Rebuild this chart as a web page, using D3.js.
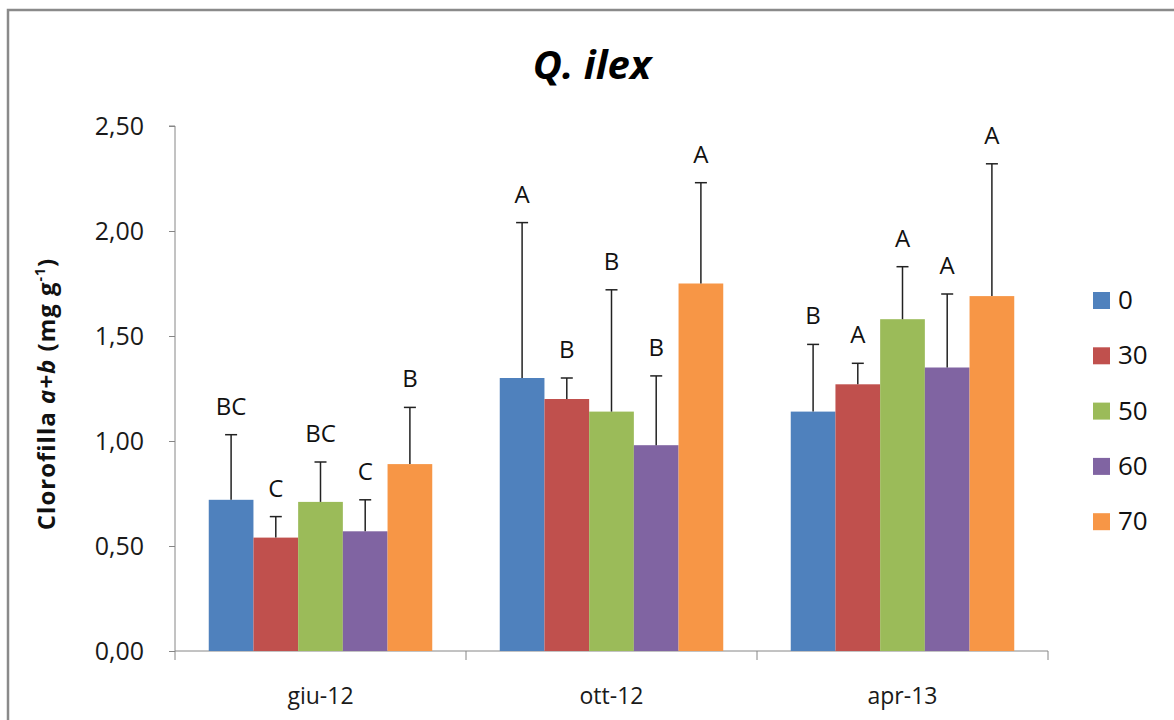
<!DOCTYPE html>
<html>
<head>
<meta charset="utf-8">
<script src="https://cdn.jsdelivr.net/npm/d3@7"></script>
<style>
  body { margin: 0; background: #fff; }
  svg { display: block; font-family: "Open Sans", sans-serif; }
</style>
</head>
<body>
<div id="chart"></div>
<script>
// 数据
const categories = ["giu-12", "ott-12", "apr-13"];
const series = ["0", "30", "50", "60", "70"];
const colors = ["#4F81BD", "#C0504D", "#9BBB59", "#8064A2", "#F79646"];
// values[series][category]
const means = [
    [0.72, 1.30, 1.14],
    [0.54, 1.20, 1.27],
    [0.71, 1.14, 1.58],
    [0.57, 0.98, 1.35],
    [0.89, 1.75, 1.69]
];
const errors = [
    [0.31, 0.74, 0.32],
    [0.10, 0.10, 0.10],
    [0.19, 0.58, 0.25],
    [0.15, 0.33, 0.35],
    [0.27, 0.48, 0.63]
];
const letters = [
    ["BC", "A", "B"],
    ["C", "B", "A"],
    ["BC", "B", "A"],
    ["C", "B", "A"],
    ["B", "A", "A"]
];
const yTicks = [0, 0.5, 1, 1.5, 2, 2.5];

const width = 1174, height = 720;
const plot = { left: 175, right: 1048, top: 126, bottom: 651 };

const svg = d3.select("#chart").append("svg")
    .attr("width", width)
    .attr("height", height);

// 外框 (top + left)
svg.append("path")
    .attr("d", `M8,${height} L8,10 L${width},10`)
    .attr("fill", "none")
    .attr("stroke", "#8a8a8a")
    .attr("stroke-width", 2.5);

const y = d3.scaleLinear().domain([0, 2.5]).range([plot.bottom, plot.top]);
const x0 = d3.scaleBand().domain(categories).range([plot.left, plot.right]).padding(0);
const gap = (x0.bandwidth() - 5 * 44.7) / 2;
const x1 = d3.scaleBand().domain(series).range([gap, x0.bandwidth() - gap]).padding(0);

// y axis
const yAxis = svg.append("g")
    .attr("transform", `translate(${plot.left},0)`)
    .call(d3.axisLeft(y).tickValues(yTicks).tickSize(6).tickPadding(25)
        .tickFormat(d => d3.format(".2f")(d).replace(".", ",")));
yAxis.select(".domain").attr("stroke", "#868686").attr("d", `M-6,${plot.top}H0V${plot.bottom}`);
yAxis.selectAll(".tick line").attr("stroke", "#868686");
yAxis.selectAll(".tick text").attr("font-size", 25).attr("fill", "#1a1a1a")
    .attr("font-family", "Open Sans, sans-serif");

// x axis
const xAxisG = svg.append("g").attr("transform", `translate(0,${plot.bottom})`);
xAxisG.append("line")
    .attr("x1", plot.left).attr("x2", plot.right)
    .attr("stroke", "#868686");
xAxisG.selectAll(".xtick")
    .data(categories.map(c => x0(c)).concat([plot.right]))
    .join("line")
    .attr("x1", d => d).attr("x2", d => d)
    .attr("y1", 0).attr("y2", 9)
    .attr("stroke", "#868686");
xAxisG.selectAll(".xlabel")
    .data(categories)
    .join("text")
    .attr("x", d => x0(d) + x0.bandwidth() / 2)
    .attr("y", 53)
    .attr("text-anchor", "middle")
    .attr("font-size", 23)
    .attr("fill", "#1a1a1a")
    .text(d => d);

// bars
const groups = svg.append("g").selectAll("g")
    .data(categories)
    .join("g")
    .attr("transform", c => `translate(${x0(c)},0)`);

const items = groups.selectAll("g")
    .data((c, ci) => series.map((s, si) => ({
        s, si, v: means[si][ci], e: errors[si][ci], l: letters[si][ci]
    })))
    .join("g");

items.append("rect")
    .attr("x", d => x1(d.s))
    .attr("width", x1.bandwidth())
    .attr("y", d => y(d.v))
    .attr("height", d => y(0) - y(d.v))
    .attr("fill", d => colors[d.si]);

const cx = d => x1(d.s) + x1.bandwidth() / 2;
items.append("line")
    .attr("x1", cx).attr("x2", cx)
    .attr("y1", d => y(d.v)).attr("y2", d => y(d.v + d.e))
    .attr("stroke", "#222").attr("stroke-width", 1.5);
items.append("line")
    .attr("x1", d => cx(d) - 6).attr("x2", d => cx(d) + 6)
    .attr("y1", d => y(d.v + d.e)).attr("y2", d => y(d.v + d.e))
    .attr("stroke", "#222").attr("stroke-width", 1.5);
items.append("text")
    .attr("x", cx)
    .attr("y", d => y(d.v + d.e) - 20)
    .attr("text-anchor", "middle")
    .attr("font-size", 24)
    .attr("fill", "#111")
    .text(d => d.l);

// title
svg.append("text")
    .attr("x", 592).attr("y", 79)
    .attr("text-anchor", "middle")
    .attr("font-size", 40)
    .attr("font-weight", "bold")
    .attr("font-style", "italic")
    .attr("fill", "#000")
    .text("Q. ilex");

// y label
const yl = svg.append("text")
    .attr("transform", "translate(55,394) rotate(-90)")
    .attr("text-anchor", "middle")
    .attr("font-size", 24)
    .attr("font-weight", "bold")
    .attr("letter-spacing", 1)
    .attr("fill", "#111");
yl.append("tspan").text("Clorofilla ");
yl.append("tspan").attr("font-style", "italic").text("a+b");
yl.append("tspan").text(" (mg g");
yl.append("tspan").attr("font-size", 14).attr("dy", -10).text("-1");
yl.append("tspan").attr("dy", 10).text(")");

// legend
const legend = svg.append("g").attr("transform", "translate(1093,300)");
const li = legend.selectAll("g")
    .data(series)
    .join("g")
    .attr("transform", (d, i) => `translate(0,${i * 55.3})`);
li.append("rect")
    .attr("x", 0).attr("y", -8)
    .attr("width", 17).attr("height", 17)
    .attr("fill", (d, i) => colors[i]);
li.append("text")
    .attr("x", 25).attr("y", 9)
    .attr("font-size", 26)
    .attr("fill", "#111")
    .text(d => d);
</script>
</body>
</html>
